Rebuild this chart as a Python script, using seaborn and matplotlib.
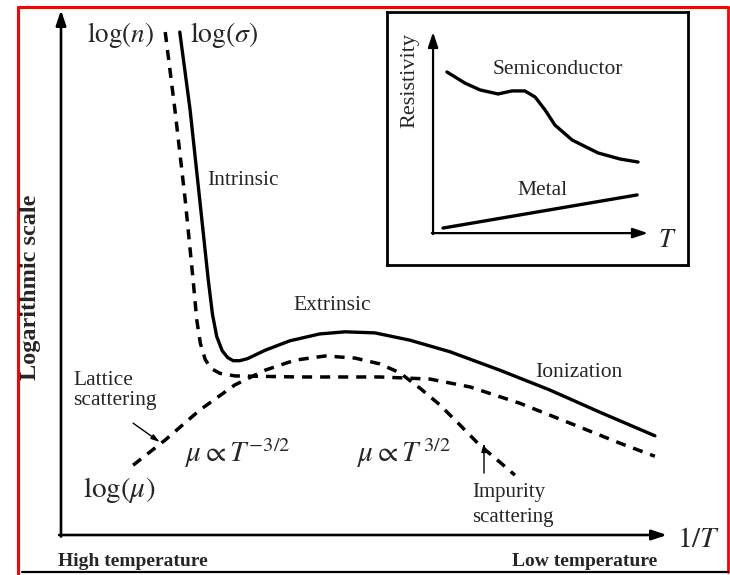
import matplotlib
matplotlib.use("Agg")
import matplotlib.pyplot as plt
import seaborn as sns
import pandas as pd
from matplotlib.lines import Line2D

# ---------------- data (schematic units, 0..100 on both axes) ----------------
sigma_x = [19.6, 21.3, 22.9, 24.3, 25.0, 25.7, 26.6, 27.5, 28.4, 29.5, 30.8, 33.7, 37.8, 42.7, 46.9, 51.8, 57.6, 64.2, 72.4, 80.7, 88.9, 98.0]
sigma_y = [95.8, 81.0, 63.8, 48.6, 42.0, 37.8, 35.1, 33.8, 33.2, 33.2, 33.6, 35.2, 37.0, 38.3, 38.7, 38.5, 37.1, 34.9, 31.4, 27.6, 23.4, 18.9]

n_x = [17.2, 18.8, 20.5, 21.8, 22.4, 23.0, 23.8, 24.8, 26.2, 28.7, 39.4, 52.6, 60.9, 67.5, 75.7, 84.0, 92.2, 98.0]
n_y = [95.8, 81.0, 63.8, 48.6, 41.0, 36.5, 33.4, 31.7, 30.8, 30.3, 30.1, 30.1, 29.7, 28.2, 25.1, 21.3, 17.5, 15.0]

mu_x = [11.9, 17.2, 22.9, 28.7, 33.7, 38.6, 43.6, 48.5, 52.6, 55.9, 59.2, 62.5, 65.8, 69.1, 72.4, 74.9]
mu_y = [13.3, 18.1, 23.8, 28.6, 31.4, 33.3, 34.1, 33.7, 32.6, 30.9, 28.0, 24.8, 21.0, 17.1, 13.9, 11.4]

semi_x = [19.9, 25.9, 30.9, 36.9, 41.5, 45.8, 49.2, 52.5, 55.8, 61.5, 70.1, 77.4, 83.4]
semi_y = [76.3, 71.9, 69.2, 67.6, 68.8, 68.8, 66.4, 61.3, 55.3, 49.4, 44.3, 41.9, 40.7]

metal_x = [18.6, 83.1]
metal_y = [14.6, 27.7]

# ---------------- style ----------------
sns.set_style("white")
plt.rcParams["font.family"] = ["Liberation Serif", "DejaVu Serif"]
plt.rcParams["mathtext.fontset"] = "stix"

W, H = 730, 575
fig = plt.figure(figsize=(7.3, 5.75), dpi=100)
fig.patch.set_facecolor("white")


def fx(px):
    return px / W


def fy(py):
    return 1 - py / H


# main axes
ax = fig.add_axes([fx(61), fy(535), (667 - 61) / W, (535 - 10) / H])
ax.set_xlim(0, 100)
ax.set_ylim(0, 100)
ax.axis("off")

df_s = pd.DataFrame({"x": sigma_x, "y": sigma_y})
df_n = pd.DataFrame({"x": n_x, "y": n_y})
df_m = pd.DataFrame({"x": mu_x, "y": mu_y})
sns.lineplot(data=df_s, x="x", y="y", ax=ax, sort=False, estimator=None, color="black", lw=2.4)
sns.lineplot(data=df_n, x="x", y="y", ax=ax, sort=False, estimator=None, color="black", lw=2.5)
sns.lineplot(data=df_m, x="x", y="y", ax=ax, sort=False, estimator=None, color="black", lw=2.5)
for ln in ax.lines:
    ln.set_solid_joinstyle("round")
ax.lines[1].set_dashes([2.9, 2.3])
ax.lines[2].set_dashes([2.9, 2.3])

arr = dict(arrowstyle="-|>,head_length=0.9,head_width=0.3", color="black", lw=1.9, shrinkA=0, shrinkB=0)
ax.annotate("", xy=(0, 1), xytext=(0, -0.003), xycoords="axes fraction", arrowprops=arr)
ax.annotate("", xy=(1, 0), xytext=(-0.003, 0), xycoords="axes fraction", arrowprops=arr)

fs_lab = 15.5
ax.text(15.3, 95.2, r"$\log(n)$", ha="right", va="center", fontsize=19.5)
ax.text(21.3, 95.2, r"$\log(\sigma)$", ha="left", va="center", fontsize=20)
ax.text(24.1, 67.6, "Intrinsic", ha="left", va="center", fontsize=fs_lab)
ax.text(38.3, 43.8, "Extrinsic", ha="left", va="center", fontsize=fs_lab)
ax.text(78.2, 30.9, "Ionization", ha="left", va="center", fontsize=fs_lab)
ax.text(2.0, 29.5, "Lattice", ha="left", va="center", fontsize=fs_lab)
ax.text(2.0, 25.7, "scattering", ha="left", va="center", fontsize=fs_lab)
ax.text(3.6, 8.6, r"$\log(\mu)$", ha="left", va="center", fontsize=21)
ax.text(20.5, 15.6, r"$\mu \propto T^{-3/2}$", ha="left", va="center", fontsize=21)
ax.text(48.8, 15.6, r"$\mu \propto T^{\,3/2}$", ha="left", va="center", fontsize=21)
ax.text(67.8, 8.0, "Impurity", ha="left", va="center", fontsize=15)
ax.text(67.8, 3.4, "scattering", ha="left", va="center", fontsize=15)

small_arr = dict(arrowstyle="-|>,head_length=0.5,head_width=0.15", color="black", lw=1.0, shrinkA=0, shrinkB=0)
ax.annotate("", xy=(69.8, 17.5), xytext=(69.8, 11.8), arrowprops=small_arr)
ax.annotate("", xy=(16.3, 17.7), xytext=(11.9, 21.3), arrowprops=small_arr)

# outside texts
fig.text(fx(677), fy(540), r"$1/T$", ha="left", va="center", fontsize=21)
fig.text(fx(58), fy(562), "High temperature", ha="left", va="center", fontsize=14, fontweight="bold")
fig.text(fx(512), fy(562), "Low temperature", ha="left", va="center", fontsize=14, fontweight="bold")
fig.text(fx(31), fy(287), "Logarithmic scale", ha="center", va="center", fontsize=17.5,
         fontweight="bold", rotation=90)

# inset
ins = fig.add_axes([fx(387), fy(265), (688 - 387) / W, (265 - 12) / H])
ins.set_xlim(0, 100)
ins.set_ylim(0, 100)
ins.set_xticks([])
ins.set_yticks([])
for sp in ins.spines.values():
    sp.set_visible(True)
    sp.set_linewidth(2.0)
    sp.set_color("black")
sns.lineplot(x=semi_x, y=semi_y, ax=ins, sort=False, estimator=None, color="black", lw=2.4)
sns.lineplot(x=metal_x, y=metal_y, ax=ins, sort=False, estimator=None, color="black", lw=2.4)
for ln in ins.lines:
    ln.set_solid_joinstyle("round")
ins.set_xlabel("")
ins.set_ylabel("")
ins.annotate("", xy=(15.3, 92.1), xytext=(15.3, 12.2), arrowprops=dict(arr, lw=1.6))
ins.annotate("", xy=(86.7, 12.6), xytext=(14.9, 12.6), arrowprops=dict(arr, lw=1.6))
ins.text(90, 9.5, r"$T$", ha="left", va="center", fontsize=19)
ins.text(7.6, 73.1, "Resistivity", ha="center", va="center", fontsize=16, rotation=90)
ins.text(35.2, 77.1, "Semiconductor", ha="left", va="center", fontsize=15.5)
ins.text(43.5, 29.6, "Metal", ha="left", va="center", fontsize=15.5)

# frame
red = "#ff0000"
fig.add_artist(Line2D([fx(18), fx(18)], [fy(7), fy(575)], color=red, lw=2.2))
fig.add_artist(Line2D([fx(18), fx(728)], [fy(7), fy(7)], color=red, lw=2.2))
fig.add_artist(Line2D([fx(728), fx(728)], [fy(7), fy(572)], color=red, lw=2.0))
fig.add_artist(Line2D([fx(22), fx(728)], [fy(572), fy(572)], color="black", lw=1.6))

fig.savefig("out.png", dpi=100, facecolor="white")
